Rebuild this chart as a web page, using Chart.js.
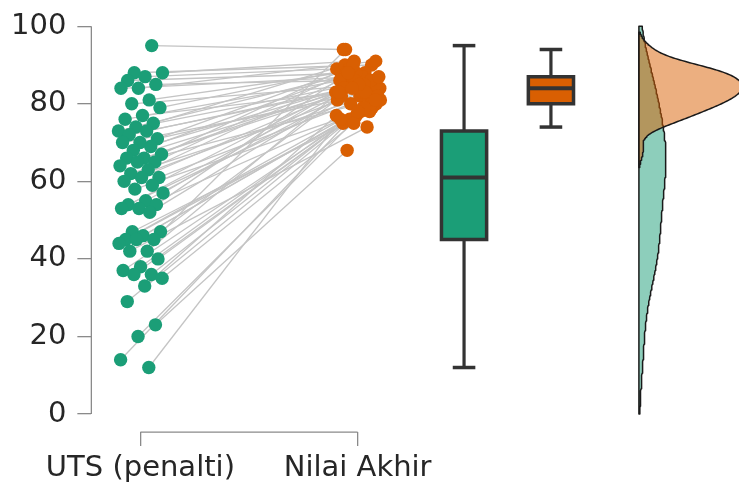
<!DOCTYPE html>
<html>
<head>
<meta charset="utf-8">
<style>
  html, body { margin: 0; padding: 0; background: #ffffff; }
  #wrap { width: 739px; height: 484px; position: relative; }
</style>
<script src="https://cdn.jsdelivr.net/npm/chart.js@4/dist/chart.umd.min.js"></script>
</head>
<body>
<div id="wrap"><canvas id="chart"></canvas></div>
<script>
// Group names shown on the x axis
const categories = ['UTS (penalti)', 'Nilai Akhir'];

// Paired scores per student: midterm (penalised) and final grade
const utsScores = [
  95, 88, 88, 87, 86, 85, 84, 84, 81, 80, 79, 77, 76, 75, 74, 73,
  73, 72, 71, 70, 70, 69, 68, 67, 66, 66, 65, 65, 64, 63, 62, 61,
  61, 60, 59, 58, 57, 55, 54, 54, 53, 53, 52, 47, 47, 46, 45, 45,
  45, 44, 42, 42, 40, 38, 37, 36, 36, 35, 33, 29, 23, 20, 14, 12
];
const finalScores = [
  94, 90, 91, 89, 88, 86, 91, 87, 88, 85, 89, 84, 87, 90, 86, 88,
  83, 85, 89, 84, 82, 87, 86, 90, 83, 85, 88, 81, 84, 86, 82, 80,
  87, 83, 84, 79, 86, 81, 83, 88, 80, 85, 82, 78, 84, 81, 79, 94,
  80, 77, 83, 74, 76, 82, 78, 75, 80, 75, 77, 79, 68, 81, 78, 76
];

// Y axis tick values
const yTicks = [0, 20, 40, 60, 80, 100];

// ---- layout constants (x positions in axis units) ----
const CAT_POS = [0, 1];            // strip positions
const BOX_POS = [1.49, 1.89];      // boxplot centres
const BOX_HALF = 0.104;            // half box width
const DENS_BASE = 2.295;           // baseline of the half violins
const DENS_MAX_W = 0.475;          // width of the tallest density peak
const JITTER = 0.105;

const GREEN = '#1b9e77';
const ORANGE = '#d95f02';
const GREEN_SOFT = 'rgba(27,158,119,0.5)';
const ORANGE_SOFT = 'rgba(217,95,2,0.5)';
const BOX_LINE = '#333333';
const SPINE = '#8a8a8a';
const TEXT = '#262626';

// deterministic spread of the strip points
function jitter(i, seed) {
  const f = ((i + 1) * 0.6180339887 + seed) % 1;
  return (f - 0.5) * 2 * JITTER;
}

function quantile(sorted, p) {
  const h = (sorted.length - 1) * p;
  const lo = Math.floor(h), hi = Math.ceil(h);
  return sorted[lo] + (sorted[hi] - sorted[lo]) * (h - lo);
}

function boxStats(vals) {
  const s = [...vals].sort((a, b) => a - b);
  const q1 = quantile(s, 0.25), med = quantile(s, 0.5), q3 = quantile(s, 0.75);
  const iqr = q3 - q1;
  const lo = s.find(v => v >= q1 - 1.5 * iqr);
  const hi = [...s].reverse().find(v => v <= q3 + 1.5 * iqr);
  return { q1, med, q3, lo, hi };
}

// Gaussian KDE with Scott's bandwidth, cut at 2 bandwidths and clipped to 0..100
function kde(vals, steps) {
  const n = vals.length;
  const mean = vals.reduce((a, b) => a + b, 0) / n;
  const sd = Math.sqrt(vals.reduce((a, v) => a + (v - mean) ** 2, 0) / (n - 1));
  const bw = sd * Math.pow(n, -0.2);
  const lo = Math.max(0, Math.min(...vals) - 2 * bw);
  const hi = Math.min(100, Math.max(...vals) + 2 * bw);
  const pts = [];
  for (let k = 0; k <= steps; k++) {
    const y = lo + (hi - lo) * k / steps;
    let d = 0;
    for (const v of vals) { const z = (y - v) / bw; d += Math.exp(-0.5 * z * z); }
    pts.push({ y, d: d / (n * bw * Math.sqrt(2 * Math.PI)) });
  }
  return { lo, hi, pts };
}

const datasets = [];

// strip points
const greenPts = utsScores.map((v, i) => ({ x: CAT_POS[0] + jitter(i, 0.13), y: v }));
const orangePts = finalScores.map((v, i) => ({ x: CAT_POS[1] + jitter(i, 0.57), y: v }));

datasets.push({
  type: 'scatter', data: orangePts, order: 1,
  backgroundColor: ORANGE, borderWidth: 0, pointRadius: 6.7, clip: false
});
datasets.push({
  type: 'scatter', data: greenPts, order: 2,
  backgroundColor: GREEN, borderWidth: 0, pointRadius: 6.7, clip: false
});

// connecting lines for each student
utsScores.forEach((v, i) => {
  datasets.push({
    type: 'line', data: [greenPts[i], orangePts[i]], order: 10,
    borderColor: '#c4c4c4', borderWidth: 1.3, pointRadius: 0, fill: false, clip: false
  });
});

// boxplots
[utsScores, finalScores].forEach((vals, g) => {
  const st = boxStats(vals);
  const c = BOX_POS[g];
  const w = BOX_HALF;
  const capW = w / 2;
  const fillCol = g === 0 ? GREEN : ORANGE;
  const common = { type: 'line', pointRadius: 0, borderColor: BOX_LINE, clip: false, order: 20 + g * 5 };
  datasets.push(Object.assign({}, common, {
    data: [{ x: c, y: st.q3 }, { x: c, y: st.hi }], borderWidth: 3.2, fill: false
  }));
  datasets.push(Object.assign({}, common, {
    data: [{ x: c, y: st.q1 }, { x: c, y: st.lo }], borderWidth: 3.2, fill: false
  }));
  datasets.push(Object.assign({}, common, {
    data: [{ x: c - capW, y: st.hi }, { x: c + capW, y: st.hi }], borderWidth: 3.5, fill: false
  }));
  datasets.push(Object.assign({}, common, {
    data: [{ x: c - capW, y: st.lo }, { x: c + capW, y: st.lo }], borderWidth: 3.5, fill: false
  }));
  datasets.push(Object.assign({}, common, {
    data: [{ x: c - w, y: st.med }, { x: c + w, y: st.med }], borderWidth: 4, fill: false, order: 19 + g * 5
  }));
  datasets.push(Object.assign({}, common, {
    data: [
      { x: c - w, y: st.q1 }, { x: c + w, y: st.q1 }, { x: c + w, y: st.q3 },
      { x: c - w, y: st.q3 }, { x: c - w, y: st.q1 }
    ],
    borderWidth: 3.5, fill: 'shape', backgroundColor: fillCol,
    borderJoinStyle: 'miter', borderCapStyle: 'square', order: 22 + g * 5
  }));
});

// half violins
const dens = [kde(utsScores, 200), kde(finalScores, 200)];
const maxD = Math.max(...dens.map(k => Math.max(...k.pts.map(p => p.d))));
dens.forEach((k, g) => {
  const poly = [{ x: DENS_BASE, y: k.lo }];
  k.pts.forEach(p => poly.push({ x: DENS_BASE + p.d / maxD * DENS_MAX_W, y: p.y }));
  poly.push({ x: DENS_BASE, y: k.hi });
  poly.push({ x: DENS_BASE, y: k.lo });
  datasets.push({
    type: 'line', data: poly, order: g === 0 ? 41 : 40,
    borderColor: '#1a1a1a', borderWidth: 1.5, pointRadius: 0, tension: 0,
    fill: 'shape', backgroundColor: g === 0 ? GREEN_SOFT : ORANGE_SOFT,
    borderJoinStyle: 'round', clip: false
  });
});

// trimmed spines, drawn through the scales
const spines = {
  id: 'spines',
  beforeDatasetsDraw(chart) {
    const { ctx, scales: { x, y }, chartArea } = chart;
    ctx.save();
    ctx.strokeStyle = SPINE;
    ctx.lineWidth = 1.3;
    ctx.beginPath();
    ctx.moveTo(chartArea.left, y.getPixelForValue(yTicks[0]));
    ctx.lineTo(chartArea.left, y.getPixelForValue(yTicks[yTicks.length - 1]));
    ctx.moveTo(x.getPixelForValue(CAT_POS[0]), chartArea.bottom);
    ctx.lineTo(x.getPixelForValue(CAT_POS[1]), chartArea.bottom);
    ctx.stroke();
    ctx.restore();
  }
};

const font = { family: 'DejaVu Sans', size: 29, lineHeight: 1.05 };

new Chart(document.getElementById('chart'), {
  type: 'scatter',
  data: { datasets },
  options: {
    responsive: true,
    maintainAspectRatio: false,
    animation: false,
    devicePixelRatio: 1,
    layout: { autoPadding: false, padding: { left: 0, right: 0, top: 26, bottom: -6.5 } },
    plugins: { legend: { display: false }, tooltip: { enabled: false } },
    scales: {
      x: {
        type: 'linear', min: -0.2258, max: 2.7558,
        afterBuildTicks: s => { s.ticks = CAT_POS.map(v => ({ value: v })); },
        ticks: {
          callback: (v, i) => categories[i],
          font, color: TEXT, padding: 7, maxRotation: 0, autoSkip: false
        },
        grid: { drawOnChartArea: false, tickLength: 14, color: SPINE, lineWidth: 1.3 },
        border: { display: false }
      },
      y: {
        type: 'linear', min: -4.64, max: 100,
        afterBuildTicks: s => { s.ticks = yTicks.map(v => ({ value: v })); },
        ticks: { font, color: TEXT, padding: 11 },
        grid: { drawOnChartArea: false, tickLength: 14, color: SPINE, lineWidth: 1.3 },
        border: { display: false }
      }
    }
  },
  plugins: [spines]
});
</script>
</body>
</html>
